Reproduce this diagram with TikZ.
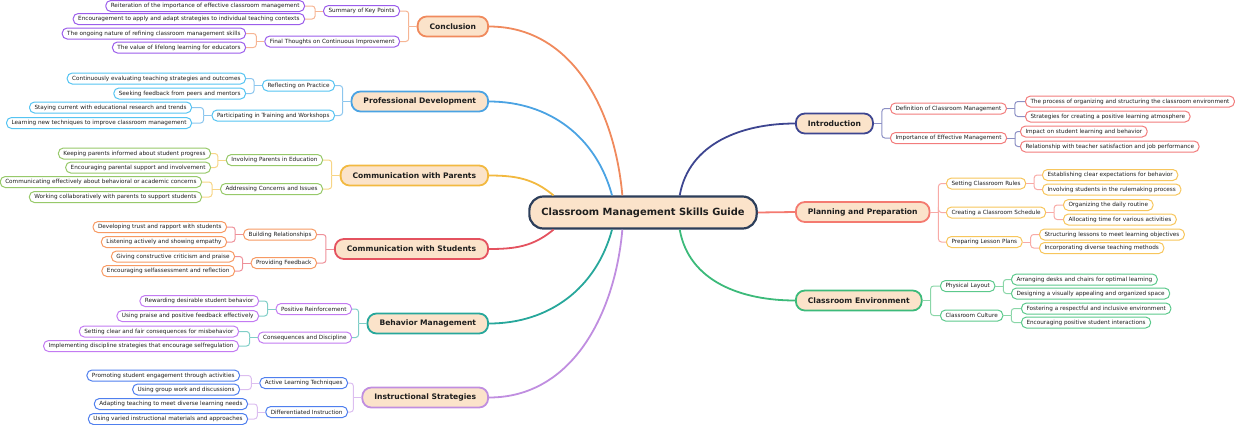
\documentclass[tikz,border=0pt]{standalone}
\usepackage{fontspec}
\setmainfont{DejaVu Sans}
\usetikzlibrary{calc,positioning}

\definecolor{peach}{HTML}{FBE3CA}
\definecolor{rootline}{HTML}{2C3E5A}
\definecolor{cOrange}{HTML}{F08A5D}
\definecolor{cOrangeL}{HTML}{F6B594}
\definecolor{cBlue}{HTML}{4BA3E3}
\definecolor{cBlueL}{HTML}{8CC6EE}
\definecolor{cYellow}{HTML}{F2B940}
\definecolor{cYellowL}{HTML}{F7D586}
\definecolor{cRed}{HTML}{E4525F}
\definecolor{cRedL}{HTML}{EE919A}
\definecolor{cTeal}{HTML}{27A79B}
\definecolor{cTealL}{HTML}{80CEC7}
\definecolor{cLav}{HTML}{C08EE0}
\definecolor{cLavL}{HTML}{DCBEF0}
\definecolor{cNavy}{HTML}{3D4590}
\definecolor{cNavyL}{HTML}{8C90C4}
\definecolor{cSalmon}{HTML}{F47A70}
\definecolor{cSalmonL}{HTML}{F8AAA6}
\definecolor{cGreen}{HTML}{3CBA7A}
\definecolor{cGreenL}{HTML}{8AD6A8}
% outlines of the small boxes
\definecolor{bViolet}{HTML}{9B5DEB}
\definecolor{bCyan}{HTML}{55C4F2}
\definecolor{bOlive}{HTML}{97C96A}
\definecolor{bOrange}{HTML}{F79A63}
\definecolor{bPurple}{HTML}{C37BF2}
\definecolor{bBlue}{HTML}{4F7FEE}
\definecolor{bRose}{HTML}{F27C7C}
\definecolor{bGold}{HTML}{F7C65C}
\definecolor{bMint}{HTML}{5CC98C}
\definecolor{ink}{HTML}{1E1E1E}

\begin{document}
\begin{tikzpicture}[
    x=1pt, y=-1pt,
    text=ink,
    root/.style={
      draw=rootline,fill=peach,line width=2.2pt,rounded corners=14pt,
      minimum height=32pt,inner xsep=12pt,
      font=\fontsize{9.9}{11}\selectfont\bfseries
    },
    topic/.style={
      draw,fill=peach,line width=1.8pt,rounded corners=9pt,
      minimum height=20pt,inner xsep=12pt,
      font=\fontsize{7.6}{9}\selectfont\bfseries
    },
    sub/.style={
      draw,fill=white,line width=1pt,rounded corners=5pt,
      minimum height=11pt,inner xsep=5pt,inner ysep=0pt,
      font=\fontsize{5.7}{6}\selectfont
    },
    trunk/.style={line width=1.8pt},
    twig/.style={line width=1pt,rounded corners=3pt}
  ]
  \useasboundingbox (0,0) rectangle (1240,424);

  \node (guide) [root] at (643,212.5) {Classroom Management Skills Guide};

  % main topics, left
  \node (concl)    [topic,draw=cOrange,anchor=east] at (489,26.5)  {Conclusion};
  \node (prof)     [topic,draw=cBlue,anchor=east]   at (489,101.5) {Professional Development};
  \node (parents)  [topic,draw=cYellow,anchor=east] at (489,175.5) {Communication with Parents};
  \node (students) [topic,draw=cRed,anchor=east]    at (489,249)   {Communication with Students};
  \node (behav)    [topic,draw=cTeal,anchor=east]   at (489,323.5) {Behavior Management};
  \node (instr)    [topic,draw=cLav,anchor=east]    at (489,397.5) {Instructional Strategies};

  % main topics, right
  \node (intro) [topic,draw=cNavy,anchor=west]   at (795,123.5) {Introduction};
  \node (plan)  [topic,draw=cSalmon,anchor=west] at (795,212)   {Planning and Preparation};
  \node (env)   [topic,draw=cGreen,anchor=west]  at (795,300.5) {Classroom Environment};

  % subtopics, left
  \node (summ)    [sub,draw=bViolet,anchor=east] at (400,11)    {Summary of Key Points};
  \node (final)   [sub,draw=bViolet,anchor=east] at (400,41.5)  {Final Thoughts on Continuous Improvement};
  \node (refl)    [sub,draw=bCyan,anchor=east]   at (335,85.5)  {Reflecting on Practice};
  \node (train)   [sub,draw=bCyan,anchor=east]   at (335,115.5) {Participating in Training and Workshops};
  \node (involv)  [sub,draw=bOlive,anchor=east]  at (323,160)   {Involving Parents in Education};
  \node (concern) [sub,draw=bOlive,anchor=east]  at (323,189)   {Addressing Concerns and Issues};
  \node (relat)   [sub,draw=bOrange,anchor=east] at (317,234.5) {Building Relationships};
  \node (feedb)   [sub,draw=bOrange,anchor=east] at (317,263)   {Providing Feedback};
  \node (posrf)   [sub,draw=bPurple,anchor=east] at (352,309)   {Positive Reinforcement};
  \node (conseq)  [sub,draw=bPurple,anchor=east] at (352,337.5) {Consequences and Discipline};
  \node (active)  [sub,draw=bBlue,anchor=east]   at (348,383)   {Active Learning Techniques};
  \node (diff)    [sub,draw=bBlue,anchor=east]   at (348,412)   {Differentiated Instruction};

  % subtopics, right
  \node (defn)    [sub,draw=bRose,anchor=west] at (890,108.5) {Definition of Classroom Management};
  \node (impt)    [sub,draw=bRose,anchor=west] at (890,138)   {Importance of Effective Management};
  \node (rules)   [sub,draw=bGold,anchor=west] at (946,183.5) {Setting Classroom Rules};
  \node (sched)   [sub,draw=bGold,anchor=west] at (946,212.5) {Creating a Classroom Schedule};
  \node (lesson)  [sub,draw=bGold,anchor=west] at (946,242)   {Preparing Lesson Plans};
  \node (layout)  [sub,draw=bMint,anchor=west] at (940,286)   {Physical Layout};
  \node (culture) [sub,draw=bMint,anchor=west] at (940,315.5) {Classroom Culture};

  % details, left
  \node (summ1)    [sub,draw=bViolet,anchor=east] at (305,6)     {Reiteration of the importance of effective classroom management};
  \node (summ2)    [sub,draw=bViolet,anchor=east] at (305,19)    {Encouragement to apply and adapt strategies to individual teaching contexts};
  \node (final1)   [sub,draw=bViolet,anchor=east] at (246,33.5)  {The ongoing nature of refining classroom management skills};
  \node (final2)   [sub,draw=bViolet,anchor=east] at (246,47.5)  {The value of lifelong learning for educators};
  \node (refl1)    [sub,draw=bCyan,anchor=east]   at (246,78.5)  {Continuously evaluating teaching strategies and outcomes};
  \node (refl2)    [sub,draw=bCyan,anchor=east]   at (246,93.5)  {Seeking feedback from peers and mentors};
  \node (train1)   [sub,draw=bCyan,anchor=east]   at (192,107.5) {Staying current with educational research and trends};
  \node (train2)   [sub,draw=bCyan,anchor=east]   at (192,123)   {Learning new techniques to improve classroom management};
  \node (involv1)  [sub,draw=bOlive,anchor=east]  at (211,153.5) {Keeping parents informed about student progress};
  \node (involv2)  [sub,draw=bOlive,anchor=east]  at (211,167.5) {Encouraging parental support and involvement};
  \node (concern1) [sub,draw=bOlive,anchor=east]  at (202,182)   {Communicating effectively about behavioral or academic concerns};
  \node (concern2) [sub,draw=bOlive,anchor=east]  at (202,197)   {Working collaboratively with parents to support students};
  \node (relat1)   [sub,draw=bOrange,anchor=east] at (227,227)   {Developing trust and rapport with students};
  \node (relat2)   [sub,draw=bOrange,anchor=east] at (227,242)   {Listening actively and showing empathy};
  \node (feedb1)   [sub,draw=bOrange,anchor=east] at (235,256.5) {Giving constructive criticism and praise};
  \node (feedb2)   [sub,draw=bOrange,anchor=east] at (235,271)   {Encouraging selfassessment and reflection};
  \node (posrf1)   [sub,draw=bPurple,anchor=east] at (259,301)   {Rewarding desirable student behavior};
  \node (posrf2)   [sub,draw=bPurple,anchor=east] at (259,316)   {Using praise and positive feedback effectively};
  \node (conseq1)  [sub,draw=bPurple,anchor=east] at (239,331.5) {Setting clear and fair consequences for misbehavior};
  \node (conseq2)  [sub,draw=bPurple,anchor=east] at (239,346)   {Implementing discipline strategies that encourage selfregulation};
  \node (active1)  [sub,draw=bBlue,anchor=east]   at (240,375.5) {Promoting student engagement through activities};
  \node (active2)  [sub,draw=bBlue,anchor=east]   at (240,389.5) {Using group work and discussions};
  \node (diff1)    [sub,draw=bBlue,anchor=east]   at (248,404)   {Adapting teaching to meet diverse learning needs};
  \node (diff2)    [sub,draw=bBlue,anchor=east]   at (248,419)   {Using varied instructional materials and approaches};

  % details, right
  \node (defn1)    [sub,draw=bRose,anchor=west] at (1025,101.5) {The process of organizing and structuring the classroom environment};
  \node (defn2)    [sub,draw=bRose,anchor=west] at (1025,116.5) {Strategies for creating a positive learning atmosphere};
  \node (impt1)    [sub,draw=bRose,anchor=west] at (1020,131.5) {Impact on student learning and behavior};
  \node (impt2)    [sub,draw=bRose,anchor=west] at (1020,146.5) {Relationship with teacher satisfaction and job performance};
  \node (rules1)   [sub,draw=bGold,anchor=west] at (1042,175)   {Establishing clear expectations for behavior};
  \node (rules2)   [sub,draw=bGold,anchor=west] at (1042,189.5) {Involving students in the rulemaking process};
  \node (sched1)   [sub,draw=bGold,anchor=west] at (1063,205)   {Organizing the daily routine};
  \node (sched2)   [sub,draw=bGold,anchor=west] at (1063,219.5) {Allocating time for various activities};
  \node (lesson1)  [sub,draw=bGold,anchor=west] at (1039,234.5) {Structuring lessons to meet learning objectives};
  \node (lesson2)  [sub,draw=bGold,anchor=west] at (1039,248)   {Incorporating diverse teaching methods};
  \node (layout1)  [sub,draw=bMint,anchor=west] at (1011,279.5) {Arranging desks and chairs for optimal learning};
  \node (layout2)  [sub,draw=bMint,anchor=west] at (1011,293.5) {Designing a visually appealing and organized space};
  \node (culture1) [sub,draw=bMint,anchor=west] at (1021,308.5) {Fostering a respectful and inclusive environment};
  \node (culture2) [sub,draw=bMint,anchor=west] at (1021,322.5) {Encouraging positive student interactions};

  % curves from the centre
  \draw [trunk,cOrange] ($(guide.north west)!.41!(guide.north east)$)  to[out=95,in=0]   (concl.east);
  \draw [trunk,cBlue]   ($(guide.north west)!.365!(guide.north east)$) to[out=105,in=0]  (prof.east);
  \draw [trunk,cYellow] ($(guide.north west)!.11!(guide.north east)$)  to[out=140,in=0]  (parents.east);
  \draw [trunk,cRed]    ($(guide.south west)!.11!(guide.south east)$)  to[out=220,in=0]  (students.east);
  \draw [trunk,cTeal]   ($(guide.south west)!.365!(guide.south east)$) to[out=255,in=0]  (behav.east);
  \draw [trunk,cLav]    ($(guide.south west)!.41!(guide.south east)$)  to[out=265,in=0]  (instr.east);
  \draw [trunk,cNavy]   ($(guide.north west)!.66!(guide.north east)$)  to[out=80,in=180]  (intro.west);
  \draw [trunk,cSalmon] (guide.east) -- (plan.west);
  \draw [trunk,cGreen]  ($(guide.south west)!.66!(guide.south east)$)  to[out=280,in=180] (env.west);

  % brackets, left side
  \foreach \p/\col in {concl/cOrangeL,summ/cOrangeL,final/cOrangeL,
                       prof/cBlueL,refl/cBlueL,train/cBlueL,
                       parents/cYellowL,involv/cYellowL,concern/cYellowL,
                       students/cRedL,relat/cRedL,feedb/cRedL,
                       behav/cTealL,posrf/cTealL,conseq/cTealL,
                       instr/cLavL,active/cLavL,diff/cLavL}
    \draw [twig,\col] (\p.west) -- ++(-8,0) coordinate (\p-j);
  \foreach \p/\c/\col in {concl/summ/cOrangeL,concl/final/cOrangeL,
                          summ/summ1/cOrangeL,summ/summ2/cOrangeL,
                          final/final1/cOrangeL,final/final2/cOrangeL,
                          prof/refl/cBlueL,prof/train/cBlueL,
                          refl/refl1/cBlueL,refl/refl2/cBlueL,
                          train/train1/cBlueL,train/train2/cBlueL,
                          parents/involv/cYellowL,parents/concern/cYellowL,
                          involv/involv1/cYellowL,involv/involv2/cYellowL,
                          concern/concern1/cYellowL,concern/concern2/cYellowL,
                          students/relat/cRedL,students/feedb/cRedL,
                          relat/relat1/cRedL,relat/relat2/cRedL,
                          feedb/feedb1/cRedL,feedb/feedb2/cRedL,
                          behav/posrf/cTealL,behav/conseq/cTealL,
                          posrf/posrf1/cTealL,posrf/posrf2/cTealL,
                          conseq/conseq1/cTealL,conseq/conseq2/cTealL,
                          instr/active/cLavL,instr/diff/cLavL,
                          active/active1/cLavL,active/active2/cLavL,
                          diff/diff1/cLavL,diff/diff2/cLavL}
    \draw [twig,\col] (\p-j) |- (\c.east);

  % brackets, right side
  \foreach \p/\col in {intro/cNavyL,defn/cNavyL,impt/cNavyL,
                       plan/cSalmonL,rules/cSalmonL,sched/cSalmonL,lesson/cSalmonL,
                       env/cGreenL,layout/cGreenL,culture/cGreenL}
    \draw [twig,\col] (\p.east) -- ++(8,0) coordinate (\p-j);
  \foreach \p/\c/\col in {intro/defn/cNavyL,intro/impt/cNavyL,
                          defn/defn1/cNavyL,defn/defn2/cNavyL,
                          impt/impt1/cNavyL,impt/impt2/cNavyL,
                          plan/rules/cSalmonL,plan/sched/cSalmonL,plan/lesson/cSalmonL,
                          rules/rules1/cSalmonL,rules/rules2/cSalmonL,
                          sched/sched1/cSalmonL,sched/sched2/cSalmonL,
                          lesson/lesson1/cSalmonL,lesson/lesson2/cSalmonL,
                          env/layout/cGreenL,env/culture/cGreenL,
                          layout/layout1/cGreenL,layout/layout2/cGreenL,
                          culture/culture1/cGreenL,culture/culture2/cGreenL}
    \draw [twig,\col] (\p-j) |- (\c.west);
\end{tikzpicture}
\end{document}
